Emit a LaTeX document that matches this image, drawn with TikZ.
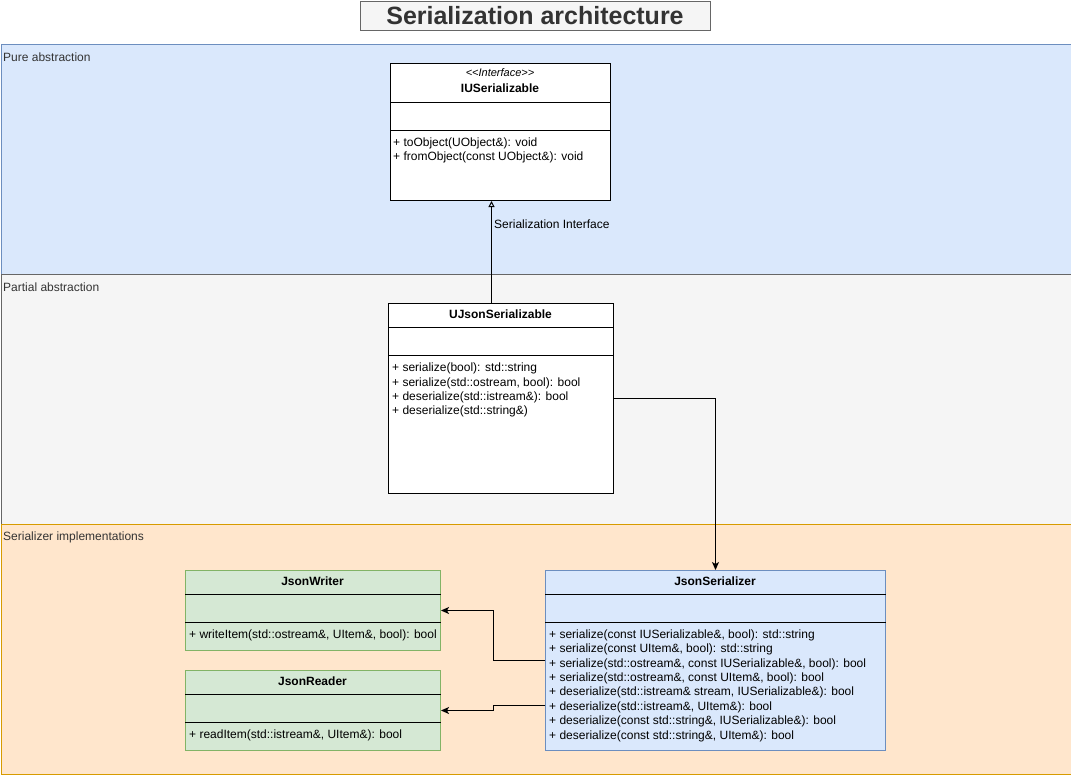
\documentclass[tikz,border=0pt]{standalone}
\usepackage{fontspec}
\setmainfont{Liberation Sans}
\usetikzlibrary{arrows.meta,calc}
\definecolor{blueF}{HTML}{DAE8FC}\definecolor{blueD}{HTML}{6C8EBF}
\definecolor{grayF}{HTML}{F5F5F5}\definecolor{grayD}{HTML}{666666}
\definecolor{orgF}{HTML}{FFE6CC}\definecolor{orgD}{HTML}{D79B00}
\definecolor{grnF}{HTML}{D5E8D4}\definecolor{grnD}{HTML}{82B366}
\definecolor{txt}{HTML}{333333}
\begin{document}
\begin{tikzpicture}[x=1pt,y=-1pt,
  every node/.style={font=\fontsize{12}{14}\selectfont, inner sep=0pt},
  lane/.style={anchor=north west, line width=1pt, minimum width=1070, minimum height=250},
  lanelabel/.style={anchor=west, text=txt},
  cls/.style={draw=black, fill=white, anchor=north west, line width=1pt},
  clsname/.style={font=\fontsize{12}{14}\selectfont\bfseries},
  meth/.style={anchor=west},
  sep/.style={line width=1pt},
  inh/.style={line width=1pt, -{Triangle[open,length=6pt,width=6pt]}},
  dep/.style={line width=1pt, -{Stealth[length=8pt,width=7pt,inset=2pt]}}
]
\useasboundingbox (0,0) rectangle (1071,774);
\fill[white] (0,0) rectangle (1071,774);

% lanes
\node[lane, fill=blueF, draw=blueD, minimum height=230] (lane1) at (0.5,43.5) {};
\node[lane, fill=grayF, draw=grayD] (lane2) at (0.5,273.5) {};
\node[lane, fill=orgF, draw=orgD] (lane3) at (0.5,523.5) {};
\node[lanelabel] (ll1) at (3,57) {Pure abstraction};
\node[lanelabel] (ll2) at (3,287) {Partial abstraction};
\node[lanelabel] (ll3) at (3,537) {Serializer implementations};

% title
\node[draw=grayD, fill=grayF, line width=1pt, minimum width=350, minimum height=29, text=txt,
      font=\fontsize{25}{28}\selectfont\bfseries] (title) at (535,15.5) {Serialization architecture};

% IUSerializable
\node[cls, minimum width=220, minimum height=137] (iu) at (390,63) {};
\node[font=\fontsize{11}{13}\selectfont\itshape] (iuster) at (500,73) {<\kern0pt<Interface>\kern0pt>};
\node[clsname] (iuname) at (500,88) {IUSerializable};
\draw[sep] (iu.west |- 0,102) -- (iu.east |- 0,102);
\draw[sep] (iu.west |- 0,130) -- (iu.east |- 0,130);
\node[meth] (iu1) at (393,143) {+ toObject(UObject\&): void};
\node[meth] (iu2) at (393,157.5) {+ fromObject(const UObject\&): void};

% UJsonSerializable
\node[cls, minimum width=225, minimum height=190] (uj) at (388,303) {};
\node[clsname] (ujname) at (500.5,314) {UJsonSerializable};
\draw[sep] (uj.west |- 0,327) -- (uj.east |- 0,327);
\draw[sep] (uj.west |- 0,355) -- (uj.east |- 0,355);
\node[meth] (uj1) at (392,368.5) {+ serialize(bool): std::string};
\node[meth] (uj2) at (392,383) {+ serialize(std::ostream, bool): bool};
\node[meth] (uj3) at (392,397.5) {+ deserialize(std::istream\&): bool};
\node[meth] (uj4) at (392,411.5) {+ deserialize(std::string\&)};

% JsonSerializer
\node[cls, fill=blueF, draw=blueD, minimum width=340, minimum height=180] (js) at (545,570) {};
\node[clsname] (jsname) at (715,581) {JsonSerializer};
\draw[sep] (js.west |- 0,594) -- (js.east |- 0,594);
\draw[sep] (js.west |- 0,622) -- (js.east |- 0,622);
\node[meth] (js1) at (549,635.5) {+ serialize(const IUSerializable\&, bool): std::string};
\node[meth] (js2) at (549,649.5) {+ serialize(const UItem\&, bool): std::string};
\node[meth] (js3) at (549,664) {+ serialize(std::ostream\&, const IUSerializable\&, bool): bool};
\node[meth] (js4) at (549,678.5) {+ serialize(std::ostream\&, const UItem\&, bool): bool};
\node[meth] (js5) at (549,692.5) {+ deserialize(std::istream\& stream, IUSerializable\&): bool};
\node[meth] (js6) at (549,707) {+ deserialize(std::istream\&, UItem\&): bool};
\node[meth] (js7) at (549,721.5) {+ deserialize(const std::string\&, IUSerializable\&): bool};
\node[meth] (js8) at (549,736) {+ deserialize(const std::string\&, UItem\&): bool};

% JsonWriter
\node[cls, fill=grnF, draw=grnD, minimum width=255, minimum height=80] (jw) at (185,570) {};
\node[clsname] (jwname) at (312.5,581) {JsonWriter};
\draw[sep] (jw.west |- 0,594) -- (jw.east |- 0,594);
\draw[sep] (jw.west |- 0,622) -- (jw.east |- 0,622);
\node[meth] (jw1) at (189,635.5) {+ writeItem(std::ostream\&, UItem\&, bool): bool};

% JsonReader
\node[cls, fill=grnF, draw=grnD, minimum width=255, minimum height=80] (jr) at (185,670) {};
\node[clsname] (jrname) at (312.5,681) {JsonReader};
\draw[sep] (jr.west |- 0,694) -- (jr.east |- 0,694);
\draw[sep] (jr.west |- 0,722) -- (jr.east |- 0,722);
\node[meth] (jr1) at (189,735.5) {+ readItem(std::istream\&, UItem\&): bool};

% connectors
\draw[inh] ($(uj.north)+(-9.5,0)$) -- ($(uj.north |- iu.south)+(-9.5,0)$);
\node[anchor=west] (inhlbl) at (494,224.5) {Serialization Interface};
\draw[dep] (uj.east) -| (js.north);
\draw[dep] (js.west) -- ++(-52,0) |- (jw.east);
\draw[dep] ($(js.west)+(0,45)$) -- ++(-52,0) |- (jr.east);
\end{tikzpicture}
\end{document}
